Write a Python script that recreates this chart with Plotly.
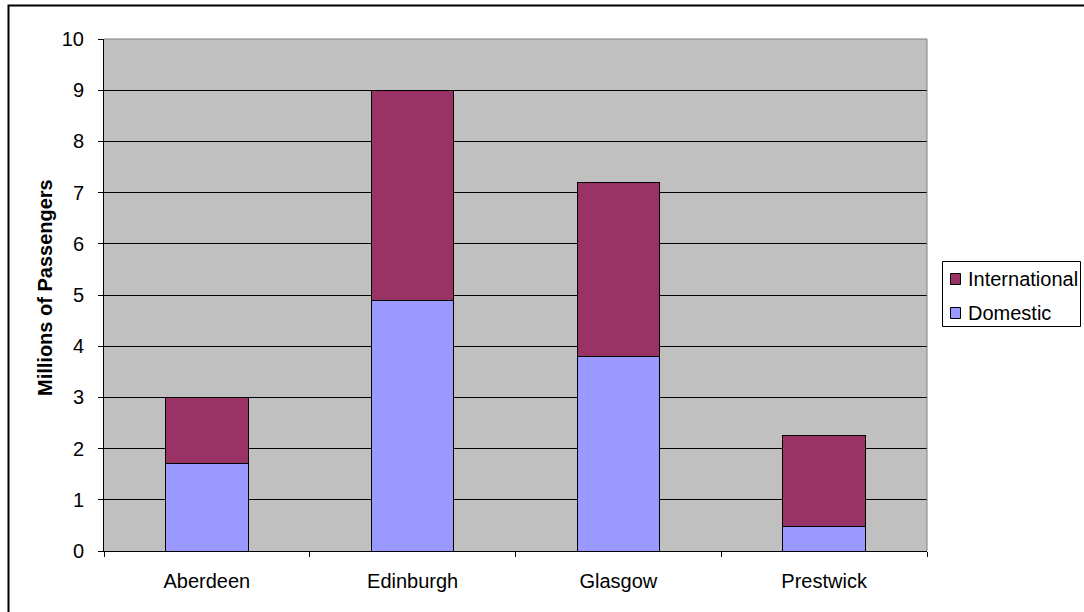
import plotly.graph_objects as go

airports = ["Aberdeen", "Edinburgh", "Glasgow", "Prestwick"]
domestic = [1.7, 4.9, 3.8, 0.47]
international = [1.3, 4.1, 3.4, 1.78]
y_ticks = list(range(0, 11))
series_names = ["International", "Domestic"]
series_colors = ["#993366", "#9999FF"]

W, H = 1084, 612
L, R, T, B = 104, 927, 39, 551  # plot area in pixels
pw, ph = R - L, B - T


def px_x(p):
    return (p - L) / pw


def px_y(p):
    return (B - p) / ph


FONT = "Liberation Sans, Arial, sans-serif"
FS = 20

fig = go.Figure()
fig.add_trace(go.Bar(
    x=airports, y=domestic, name="Domestic",
    marker=dict(color=series_colors[1], line=dict(color="black", width=1)),
))
fig.add_trace(go.Bar(
    x=airports, y=international, name="International",
    marker=dict(color=series_colors[0], line=dict(color="black", width=1)),
))

shapes = [
    dict(type="line", xref="paper", yref="paper", x0=0, x1=1, y0=1, y1=1,
         line=dict(color="#808080", width=1), layer="above"),
    dict(type="line", xref="paper", yref="paper", x0=1, x1=1, y0=0, y1=1,
         line=dict(color="#808080", width=1), layer="above"),
    dict(type="rect", xref="paper", yref="paper",
         x0=px_x(8.5), x1=px_x(W + 20), y0=px_y(H + 20), y1=px_y(5.5),
         line=dict(color="black", width=2), fillcolor="rgba(0,0,0,0)",
         layer="below"),
    # legend box
    dict(type="rect", xref="paper", yref="paper",
         x0=px_x(942.5), x1=px_x(1080.5), y0=px_y(326.5), y1=px_y(261.5),
         line=dict(color="black", width=1), fillcolor="white", layer="above"),
]
annotations = [dict(
    text="<b>Millions of Passengers</b>", textangle=-90,
    xref="paper", yref="paper", x=px_x(45), y=px_y(288),
    xanchor="center", yanchor="middle", showarrow=False,
    font=dict(size=FS),
)]
legend_rows = [279, 313]
for name, color, cy in zip(series_names, series_colors, legend_rows):
    shapes.append(dict(
        type="rect", xref="paper", yref="paper",
        x0=px_x(950.5), x1=px_x(960.5), y0=px_y(cy + 5.5), y1=px_y(cy - 5.5),
        line=dict(color="black", width=1), fillcolor=color, layer="above"))
    annotations.append(dict(
        text=name, xref="paper", yref="paper", x=px_x(966), y=px_y(cy),
        xanchor="left", yanchor="middle", showarrow=False,
        font=dict(size=FS)))

fig.update_layout(
    width=W, height=H,
    margin=dict(l=L, r=W - R, t=T, b=H - B, pad=0, autoexpand=False),
    barmode="stack", bargap=0.6,
    paper_bgcolor="white", plot_bgcolor="#C0C0C0",
    font=dict(family=FONT, size=FS, color="black"),
    showlegend=False,
    xaxis=dict(
        type="category", tickson="boundaries", ticks="outside", ticklen=5,
        tickcolor="black", showline=True, linecolor="black", linewidth=1,
        showgrid=False, zeroline=False, ticklabelstandoff=12,
    ),
    yaxis=dict(
        range=[0, 10], tickvals=y_ticks, ticks="outside", ticklen=5,
        tickcolor="black", showline=True, linecolor="black", linewidth=1,
        showgrid=True, gridcolor="black", gridwidth=1, zeroline=False,
        ticklabelstandoff=10,
    ),
    annotations=annotations,
    shapes=shapes,
)

fig.write_html(
    "out.html",
    config={"displayModeBar": False},
    post_script="document.body.style.margin='0';document.body.style.overflow='hidden';",
)
